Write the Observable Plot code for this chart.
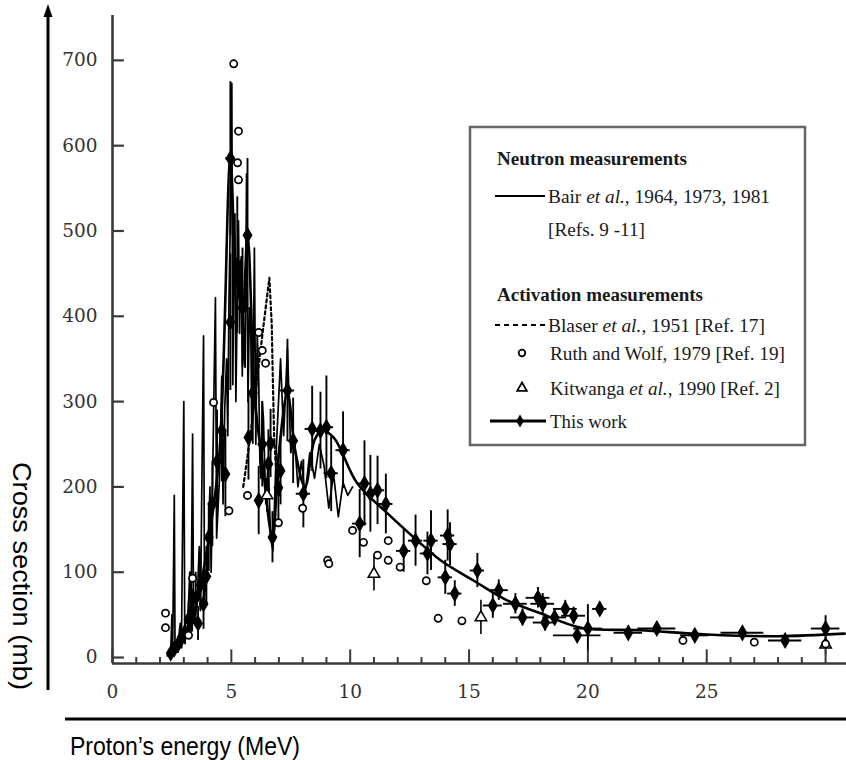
<!DOCTYPE html>
<html><head><meta charset="utf-8">
<script src="https://cdn.jsdelivr.net/npm/d3@7"></script>
<script src="https://cdn.jsdelivr.net/npm/@observablehq/plot@0.6"></script>
<style>
body{margin:0;background:#fff;}
#chart svg{display:block;}
</style></head><body><div id="chart"></div>
<script>
// ---- tick values ----
const yTickValues = [0, 100, 200, 300, 400, 500, 600, 700];
const xTickLabels = [0, 5, 10, 15, 20, 25];
const xMinorTicks = d3.range(0, 31, 1);

// ---- Bair et al. neutron measurements (MeV, mb) ----
const bairE = [2.30,2.45,2.50,2.53,2.60,2.63,2.75,2.85,2.90,3.00,3.04,3.15,3.25,3.30,3.37,3.41,3.55,3.65,3.70,3.83,3.87,4.00,4.10,4.15,4.33,4.38,4.50,4.60,4.65,4.72,4.80,4.85,4.90,4.95,5.02,5.06,5.10,5.15,5.19,5.22,5.26,5.30,5.35,5.38,5.42,5.46,5.50,5.54,5.58,5.64,5.70,5.76,5.82,5.86,5.90,5.97,6.03,6.09,6.15,6.20,6.25,6.30,6.35,6.45,6.55,6.65,6.75,6.90,7.07,7.20,7.36,7.50,7.65,7.80,7.95,8.10,8.30,8.50,8.70,8.90,9.10,9.30,9.50,9.70,9.90,10.1];
const bairS = [2,6,50,8,190,12,15,40,12,300,20,30,100,30,262,40,60,130,55,377,70,110,200,100,422,140,210,330,180,290,350,260,420,500,673,320,440,520,300,360,450,512,380,460,470,330,420,350,340,567,300,410,380,260,280,480,250,380,330,230,210,300,280,180,230,140,125,250,350,260,363,240,260,200,230,190,240,210,250,225,175,215,165,205,190,200];

// ---- Blaser et al. 1951 (dashed) ----
const blaserE = [5.5,5.8,6.1,6.4,6.6,6.7,6.75,6.8,6.9,7.0];
const blaserS = [200,260,330,400,445,390,320,260,210,190];

// ---- Ruth and Wolf 1979 (open circles) ----
const ruthE = [2.23,2.23,3.2,3.37,4.25,4.9,5.1,5.3,5.26,5.3,5.68,6.15,6.3,6.44,6.98,8.0,9.05,9.1,10.1,10.56,11.15,11.6,11.6,12.1,13.2,13.7,14.7,24.0,27.0,30.0];
const ruthS = [52,35,26,93,299,172,696,617,580,560,190,381,360,345,158,175,114,110,149,135,120,137,114,106,90,46,43,20,18,16];

// ---- Kitwanga et al. 1990 (open triangles) ----
const kitE = [6.5,11.0,15.5,30.0];
const kitS = [190,98,47,15];
const kitErr = [20,20,20,12];

// ---- This work (diamonds with error bars) ----
const twE = [2.45,2.6,2.75,2.9,3.05,3.2,3.35,3.5,3.6,3.7,3.83,3.95,4.05,4.2,4.4,4.6,4.75,4.96,4.96,5.25,5.47,5.68,5.72,5.9,6.15,6.3,6.56,6.65,6.73,6.98,7.07,7.36,7.6,8.03,8.4,8.75,9.0,9.2,9.7,10.4,10.6,10.85,11.15,11.5,12.25,12.75,13.25,13.4,14.0,14.1,14.2,14.4,15.35,16.0,16.25,16.95,17.25,17.9,18.1,18.2,18.6,19.05,19.4,19.55,20.0,20.5,21.7,22.9,24.5,26.5,28.3,30.0];
const twS = [5,10,15,22,30,45,55,70,40,85,63,95,141,180,230,266,215,393,585,460,410,495,258,310,184,250,227,251,141,199,219,313,254,192,268,266,270,216,243,157,204,192,196,180,125,137,122,137,94,143,133,75,102,61,79,63,47,70,63,41,47,57,49,26,34,57,29,34,26,29,20,34];
const twErrS = [5,8,10,12,15,20,25,30,20,30,30,35,40,50,60,60,50,80,90,80,70,90,50,60,40,50,40,40,30,40,40,60,50,40,50,45,60,45,45,40,50,45,40,35,25,30,25,35,20,30,25,15,20,15,12,12,10,12,12,10,10,10,10,8,28,8,6,8,6,6,5,15];
const twErrE = [0.1,0.1,0.1,0.1,0.1,0.1,0.1,0.1,0.1,0.1,0.1,0.1,0.1,0.1,0.15,0.15,0.15,0.15,0.2,0.15,0.15,0.15,0.15,0.15,0.15,0.15,0.15,0.15,0.15,0.15,0.15,0.3,0.2,0.3,0.3,0.3,0.3,0.3,0.3,0.3,0.3,0.3,0.3,0.3,0.3,0.3,0.3,0.3,0.3,0.3,0.3,0.3,0.3,0.4,0.4,0.5,0.5,0.5,0.5,0.5,0.5,0.5,0.5,1.0,0.6,0.3,0.6,0.8,0.6,0.9,0.7,0.6];

// ---- This work fitted curve ----
const fitE = [2.4,3.0,3.5,4.0,4.5,4.96,5.2,5.47,5.68,6.0,6.3,6.73,7.0,7.36,7.7,8.1,8.5,8.8,9.3,10.3,11.57,12.83,13.8,15.2,16.6,18.0,19.7,22.2,25,28,30.8];
const fitS = [3,20,60,130,240,585,450,410,495,300,230,140,240,310,240,200,255,266,258,204,169,137,114,90,67,52,35,32,27,25,28];

// ---- legend labels ----
const legendHead1 = "Neutron measurements";
const legendHead2 = "Activation measurements";

// build tables
const bair = bairE.map((e, i) => ({e, s: bairS[i]}));
const blaser = blaserE.map((e, i) => ({e, s: blaserS[i]}));
const ruth = ruthE.map((e, i) => ({e, s: ruthS[i]}));
const kit = kitE.map((e, i) => ({e, s: kitS[i], err: kitErr[i]}));
const tw = twE.map((e, i) => ({e, s: twS[i], es: twErrS[i], ee: twErrE[i]}));
const fit = fitE.map((e, i) => ({e, s: fitS[i]}));

const yMin = -7, yMax = 752.6, xMax = 30.88;
const axisColor = "#3a3a3a";
const tickFont = "'DejaVu Serif', serif";

const chart = Plot.plot({
  width: 846, height: 760,
  marginLeft: 112, marginRight: 0, marginTop: 15, marginBottom: 97,
  x: {domain: [0, xMax], axis: null},
  y: {domain: [yMin, yMax], axis: null},
  style: {background: "white", fontFamily: "'Liberation Serif', serif", overflow: "visible"},
  marks: [
    // data
    Plot.line(bair, {x: "e", y: "s", stroke: "black", strokeWidth: 1.7}),
    Plot.line(blaser, {x: "e", y: "s", stroke: "black", strokeWidth: 2.2, strokeDasharray: "3,3"}),
    Plot.line(fit, {x: "e", y: "s", stroke: "black", strokeWidth: 2.6, curve: "catmull-rom"}),
    Plot.ruleX(tw, {x: "e", y1: d => d.s - d.es, y2: d => d.s + d.es, stroke: "black", strokeWidth: 1.9}),
    Plot.ruleY(tw, {y: "s", x1: d => d.e - d.ee, x2: d => d.e + d.ee, stroke: "black", strokeWidth: 1.9}),
    Plot.dot(tw, {x: "e", y: "s", symbol: "diamond", r: 4.3, fill: "black", stroke: "black"}),
    Plot.ruleX(kit, {x: "e", y1: d => d.s - d.err, y2: d => d.s + d.err, stroke: "black", strokeWidth: 1.6}),
    Plot.dot(kit, {x: "e", y: "s", symbol: "triangle", r: 4.2, fill: "white", stroke: "black", strokeWidth: 1.6}),
    Plot.dot(ruth, {x: "e", y: "s", symbol: "circle", r: 3.6, fill: "white", stroke: "black", strokeWidth: 1.7}),
    // axes
    Plot.ruleX([0], {y1: yMin, y2: yMax, stroke: axisColor, strokeWidth: 2.6}),
    Plot.ruleY([yMin], {x1: 0, x2: xMax, stroke: axisColor, strokeWidth: 2.6}),
    Plot.ruleY(yTickValues, {y: d => d, x1: 0, x2: 0.5, stroke: axisColor, strokeWidth: 2.2}),
    Plot.ruleX(xMinorTicks, {x: d => d, y1: yMin, y2: d => d % 5 === 0 ? yMin + 16 : yMin + 7, stroke: axisColor, strokeWidth: 2}),
    Plot.text(yTickValues, {x: 0, y: d => d, text: d => String(d), dx: -15, textAnchor: "end", fontSize: 18.5, fontFamily: tickFont, fill: "#333"}),
    Plot.text(xTickLabels, {x: d => d, y: yMin, text: d => String(d), dy: 29, fontSize: 18.5, fontFamily: tickFont, fill: "#333"})
  ]
});
document.getElementById("chart").appendChild(chart);

const svg = d3.select(chart);
const sans = "'Liberation Sans Narrow', 'Liberation Sans', Arial, sans-serif";
const serif = "'Liberation Serif', 'Times New Roman', serif";

// outer axis arrows and titles
svg.append("line").attr("x1", 48).attr("y1", 690).attr("x2", 48).attr("y2", 14)
  .attr("stroke", "black").attr("stroke-width", 3);
svg.append("polygon").attr("points", "48,4 43.5,17 52.5,17").attr("fill", "black");
svg.append("text").attr("transform", "translate(13,462) rotate(90)").attr("text-anchor", "start")
  .attr("font-family", sans).attr("font-size", 25).attr("fill", "black")
  .attr("textLength", 228).attr("lengthAdjust", "spacingAndGlyphs")
  .text("Cross section (mb)");
svg.append("line").attr("x1", 65).attr("y1", 719).attr("x2", 846).attr("y2", 719)
  .attr("stroke", "black").attr("stroke-width", 3);
svg.append("text").attr("x", 70).attr("y", 755).attr("text-anchor", "start")
  .attr("font-family", sans).attr("font-size", 25).attr("fill", "black")
  .attr("textLength", 230).attr("lengthAdjust", "spacingAndGlyphs")
  .text("Proton\u2019s energy (MeV)");

// legend
const lg = svg.append("g").attr("font-family", serif).attr("fill", "#1a1a1a").attr("text-anchor", "start");
lg.append("rect").attr("x", 470).attr("y", 127).attr("width", 335).attr("height", 318)
  .attr("fill", "white").attr("stroke", "#666").attr("stroke-width", 2.5);
function ltext(x, y, len, parts, bold) {
  const t = lg.append("text").attr("x", x).attr("y", y).attr("dominant-baseline", "central")
    .attr("text-anchor", "start")
    .attr("font-size", 19.5).attr("font-weight", bold ? "bold" : "normal")
    .attr("textLength", len).attr("lengthAdjust", "spacingAndGlyphs");
  parts.forEach(p => {
    const s = t.append("tspan").text(p[0]);
    if (p[1]) s.attr("font-style", "italic");
  });
}
ltext(497, 158, 190, [[legendHead1]], true);
lg.append("line").attr("x1", 495).attr("x2", 545).attr("y1", 196).attr("y2", 196).attr("stroke", "black").attr("stroke-width", 2);
ltext(548, 196, 222, [["Bair "], ["et al.", true], [", 1964, 1973, 1981"]]);
ltext(548, 229, 97, [["[Refs. 9 -11]"]]);
ltext(497, 294, 206, [[legendHead2]], true);
lg.append("line").attr("x1", 495).attr("x2", 547).attr("y1", 325).attr("y2", 325).attr("stroke", "black").attr("stroke-width", 2.2).attr("stroke-dasharray", "5,4");
ltext(548, 325, 217, [["Blaser "], ["et al.", true], [", 1951 [Ref. 17]"]]);
lg.append("circle").attr("cx", 522).attr("cy", 353).attr("r", 3.3).attr("fill", "white").attr("stroke", "black").attr("stroke-width", 1.8);
ltext(550, 353, 235, [["Ruth and Wolf, 1979 [Ref. 19]"]]);
lg.append("path").attr("d", d3.symbol(d3.symbolTriangle, 40)()).attr("transform", "translate(522,388)")
  .attr("fill", "white").attr("stroke", "black").attr("stroke-width", 1.8);
ltext(550, 388, 230, [["Kitwanga "], ["et al.", true], [", 1990 [Ref. 2]"]]);
lg.append("line").attr("x1", 490).attr("x2", 546).attr("y1", 421).attr("y2", 421).attr("stroke", "black").attr("stroke-width", 3);
lg.append("path").attr("d", d3.symbol(d3.symbolDiamond, 50)()).attr("transform", "translate(520,421)").attr("fill", "black");
ltext(550, 421, 77, [["This work"]]);
</script>
</body></html>
